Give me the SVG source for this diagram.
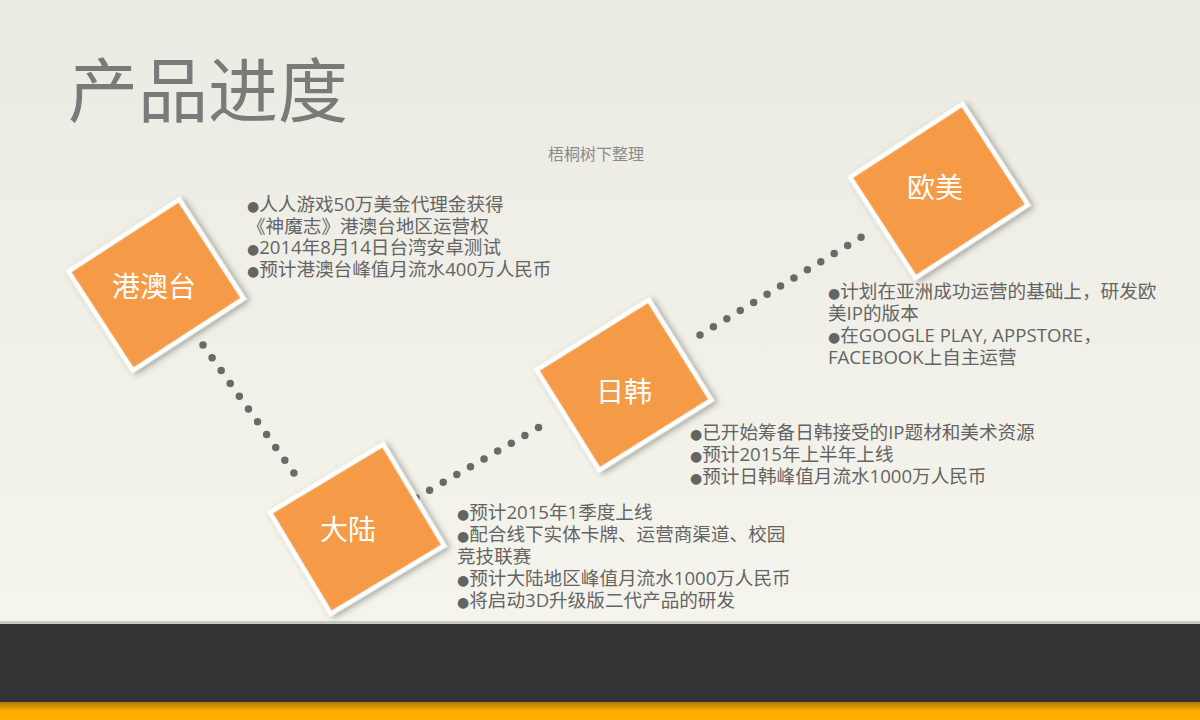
<svg xmlns="http://www.w3.org/2000/svg" width="1200" height="720" viewBox="0 0 1200 720">
<defs>
<linearGradient id="bg" x1="0" y1="0" x2="0" y2="1">
<stop offset="0" stop-color="#ECEBE3"/>
<stop offset="1" stop-color="#F7F6EE"/>
</linearGradient>
<linearGradient id="orshadow" x1="0" y1="0" x2="0" y2="1">
<stop offset="0" stop-color="#B07A10"/>
<stop offset="0.5" stop-color="#FFAE00"/>
<stop offset="1" stop-color="#FFAE00"/>
</linearGradient>
<filter id="sh" x="-30%" y="-30%" width="160%" height="160%">
<feDropShadow dx="2" dy="3" stdDeviation="3" flood-color="#000" flood-opacity="0.35"/>
</filter>
</defs>
<style>
.title{font-family:"Noto Sans CJK SC","Noto Sans",sans-serif;font-size:70px;fill:#7a7a7a}
.sub{font-family:"Noto Sans CJK SC",sans-serif;font-size:16px;fill:#8a8a8a}
.box{fill:#F59A46;stroke:#ffffff;stroke-width:4.5}
.lbl{font-family:"Noto Sans CJK SC",sans-serif;font-size:28px;fill:#ffffff;text-anchor:middle}
.txt{font-family:"Open Sans","Noto Sans CJK SC",sans-serif;font-size:18.6px;fill:#646464}
.b{font-family:"DejaVu Sans",sans-serif;font-size:14px}
.dots{fill:none;stroke:#6a6a6a;stroke-width:7.5;stroke-linecap:round;stroke-dasharray:0 15.7}
</style>
<rect x="0" y="0" width="1200" height="720" fill="url(#bg)"/>
<rect x="0" y="621" width="1200" height="3" fill="#c9c8c0"/>
<rect x="0" y="624" width="1200" height="79" fill="#343335"/>
<rect x="0" y="702" width="1200" height="18" fill="url(#orshadow)"/>

<text class="title" x="68" y="117">产品进度</text>
<text class="sub" x="548" y="160">梧桐树下整理</text>

<g id="connectors">
<path class="dots" d="M203,345 L301,483"/>
<path class="dots" d="M416,498 L550,421"/>
<path class="dots" d="M700,335 L873,230"/>
</g>

<g id="node-gat">
<rect class="box" filter="url(#sh)" x="-66" y="-59" width="132" height="118" transform="translate(156,285) rotate(-33)"/>
<text class="lbl" x="154" y="297">港澳台</text>
</g>
<g id="node-dalu">
<rect class="box" filter="url(#sh)" x="-66" y="-59" width="132" height="118" transform="translate(357,529) rotate(-31)"/>
<text class="lbl" x="348" y="540">大陆</text>
</g>
<g id="node-rihan">
<rect class="box" filter="url(#sh)" x="-66" y="-59" width="132" height="118" transform="translate(624,385) rotate(-32)"/>
<text class="lbl" x="624" y="402">日韩</text>
</g>
<g id="node-oumei">
<rect class="box" filter="url(#sh)" x="-67" y="-60" width="134" height="120" transform="translate(939,191) rotate(-33)"/>
<text class="lbl" x="935" y="198">欧美</text>
</g>

<g id="text-gat" class="txt">
<text x="247" y="211"><tspan class="b">●</tspan>人人游戏50万美金代理金获得</text>
<text x="247" y="233">《神魔志》港澳台地区运营权</text>
<text x="247" y="254"><tspan class="b">●</tspan>2014年8月14日台湾安卓测试</text>
<text x="247" y="276"><tspan class="b">●</tspan>预计港澳台峰值月流水400万人民币</text>
</g>
<g id="text-dalu" class="txt">
<text x="457" y="519"><tspan class="b">●</tspan>预计2015年1季度上线</text>
<text x="457" y="541"><tspan class="b">●</tspan>配合线下实体卡牌、运营商渠道、校园</text>
<text x="457" y="563">竞技联赛</text>
<text x="457" y="585"><tspan class="b">●</tspan>预计大陆地区峰值月流水1000万人民币</text>
<text x="457" y="607"><tspan class="b">●</tspan>将启动3D升级版二代产品的研发</text>
</g>
<g id="text-rihan" class="txt">
<text x="690" y="439"><tspan class="b">●</tspan>已开始筹备日韩接受的IP题材和美术资源</text>
<text x="690" y="461"><tspan class="b">●</tspan>预计2015年上半年上线</text>
<text x="690" y="483"><tspan class="b">●</tspan>预计日韩峰值月流水1000万人民币</text>
</g>
<g id="text-oumei" class="txt">
<text x="828" y="298"><tspan class="b">●</tspan>计划在亚洲成功运营的基础上，研发欧</text>
<text x="828" y="320">美IP的版本</text>
<text x="828" y="342"><tspan class="b">●</tspan>在GOOGLE PLAY, APPSTORE，</text>
<text x="828" y="364">FACEBOOK上自主运营</text>
</g>
</svg>
